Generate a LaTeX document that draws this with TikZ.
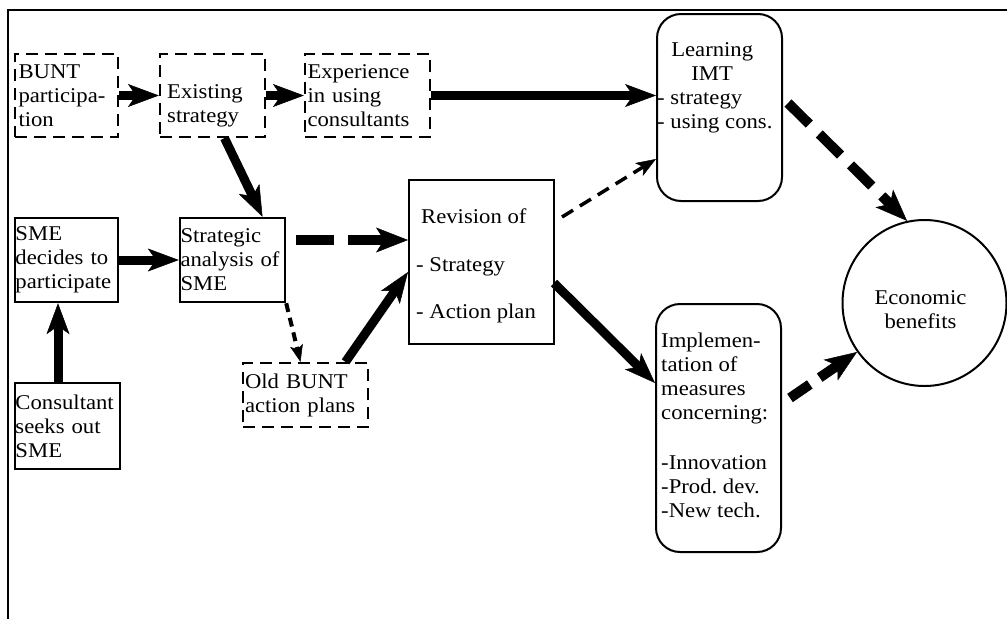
\documentclass[tikz,border=0pt]{standalone}
\usepackage{fontspec}
\setmainfont{Liberation Serif}[FakeStretch=1.08]
\usetikzlibrary{arrows.meta,shapes.geometric,calc}
\tikzset{
  every node/.style={font=\fontsize{21}{24}\selectfont},
  dbox/.style={draw,line width=2.2pt,dash pattern=on 12pt off 7pt,inner sep=0pt,align=left},
  sbox/.style={draw,line width=2.4pt,inner sep=0pt,align=left},
  rbox/.style={draw,line width=2pt,rounded corners=24pt,inner sep=0pt},
  txt/.style={anchor=north west,inner sep=0pt,align=left},
  thickarr/.style={line width=9pt,-{Stealth[length=31pt,width=23pt,inset=8pt,line width=0.5pt]}},
  thickdash/.style={line width=10pt,dash pattern=on 38pt off 14pt,-{Stealth[length=32pt,width=25pt,inset=8pt,line width=0.5pt]}},
  thindash/.style={line width=3.5pt,dash pattern=on 13pt off 8pt,-{Stealth[length=20pt,width=15pt,inset=5pt,line width=0.5pt]}},
  dotdash/.style={line width=4pt,dash pattern=on 9pt off 6pt,-{Stealth[length=17pt,width=13pt,inset=4pt,line width=0.5pt]}},
}
\begin{document}
\frenchspacing
\begin{tikzpicture}[x=1pt,y=-1pt]
\useasboundingbox (0,0) rectangle (1007,619);
% frame
\coordinate (fc) at (8,10);
\coordinate (fr) at (1007,10);
\coordinate (fb) at (8,619);
\draw[line width=2pt] (fr) -- (fc) -- (fb);
% top row
\node[dbox,minimum width=103pt,minimum height=83pt,text width=96pt,inner xsep=3.5pt] (bunt) at (66.5,95.5) {BUNT\\participa-\\tion};
\node[dbox,minimum width=105pt,minimum height=83pt] (exist) at (212.5,95.5) {};
\node[txt] (existtxt) at (167,84.5) {Existing\\strategy};
\node[dbox,minimum width=125pt,minimum height=83pt,text width=120pt,inner xsep=2.5pt] (exper) at (367.5,95.5) {Experience\\in using\\consultants};
% learning
\node[rbox,minimum width=125pt,minimum height=187pt] (learn) at (719.5,107.5) {};
\node[txt] (learntxt) at (657,42.7) {\makebox[110pt]{Learning}\\\makebox[110pt]{IMT}\\- strategy\\- using cons.};
% middle row
\node[sbox,minimum width=103pt,minimum height=84pt,text width=102pt,inner xsep=0.5pt] (sme) at (66.5,260) {SME\\decides to\\participate};
\node[sbox,minimum width=105pt,minimum height=84pt,text width=104pt,inner xsep=0.5pt] (strat) at (232.5,260) {Strategic\\analysis of\\SME};
\node[dbox,minimum width=125pt,minimum height=64pt,text width=121pt,inner xsep=2pt] (old) at (305.5,395) {Old BUNT\\action plans};
\node[sbox,minimum width=105pt,minimum height=86pt,text width=104pt,inner xsep=0.5pt] (cons) at (67.5,426) {Consultant\\seeks out\\SME};
% revision
\node[draw,line width=2pt,minimum width=145pt,minimum height=164pt,inner sep=0pt] (rev) at (481.5,262) {};
\node[txt] (revtxt) at (416,208.7) {\hspace*{5pt}Revision of\\[23.5pt]- Strategy\\[23.5pt]- Action plan};
% implementation
\node[rbox,minimum width=125pt,minimum height=248pt] (impl) at (718.5,428) {};
\node[txt] (impltxt) at (661,332.7) {Implemen-\\tation of\\measures\\concerning:\\[26pt]-Innovation\\-Prod. dev.\\-New tech.};
% economic
\node[ellipse,draw,line width=2pt,minimum width=164pt,minimum height=166pt,inner sep=0pt] (econ) at (924.5,303) {};
\node[inner sep=0pt,align=center] (econtxt) at (920.5,310) {Economic\\benefits};
% arrows
\draw[thickarr] (bunt.east) -- (exist.west);
\draw[thickarr] (exist.east) -- (exper.west);
\draw[thickarr] (exper.east) -- (exper.east -| learn.west);
\draw[thickarr] ([xshift=12pt]exist.south) -- ([xshift=30pt]strat.north);
\draw[thickarr] (sme.east) -- (strat.west);
\draw[thickarr] ([xshift=-9.5pt]cons.north) -- ([xshift=-9.5pt]cons.north |- sme.south);
\draw[thickdash] ([shift={(10pt,20pt)}]strat.east) -- ([yshift=22pt]rev.west);
\draw[dotdash] (strat.south east) -- ([xshift=-5pt]old.north);
\draw[thickarr] ([xshift=40pt]old.north) -- ([yshift=-10pt]rev.west);
\draw[thindash] ([shift={(7pt,45pt)}]rev.east) -- ([yshift=-51.5pt]learn.west);
\draw[thickarr] ([shift={(-1pt,-21pt)}]rev.east) -- ([yshift=45pt]impl.west);
\draw[thickdash,dash pattern=on 30pt off 14pt] ([shift={(5pt,4.5pt)}]learn.east) -- (econ.102);
\draw[thickdash,dash pattern=on 24pt off 12pt] ([shift={(8pt,30pt)}]impl.east) -- (econ.216);
\end{tikzpicture}
\end{document}
